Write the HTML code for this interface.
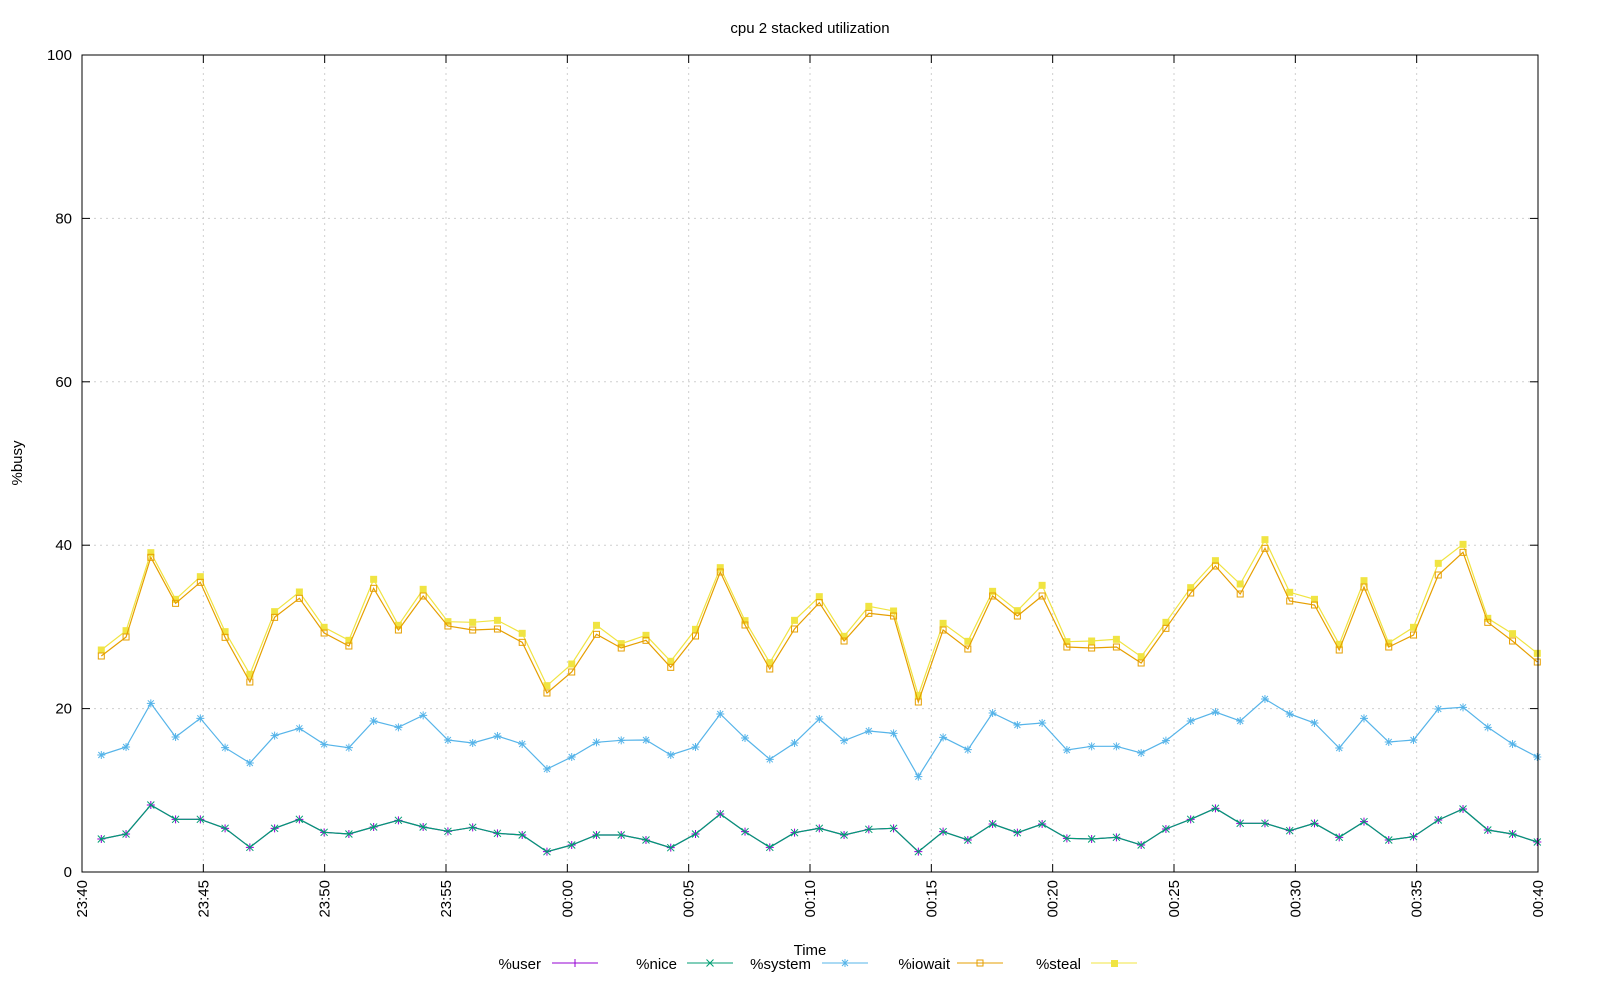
<!DOCTYPE html>
<html><head><meta charset="utf-8"><style>
body{margin:0;background:#fff;}
svg{display:block;font-family:"Liberation Sans","DejaVu Sans",sans-serif;}
</style></head><body>
<svg id="s" width="1600" height="1000" xmlns="http://www.w3.org/2000/svg">
<rect width="1600" height="1000" fill="#fff"/>
<g id="grid" stroke="#cfcfcf" stroke-width="1" stroke-dasharray="2,4"></g>
<g id="data"></g>
<rect x="82" y="55" width="1456" height="817" fill="none" stroke="#000" stroke-width="1"/>
<g id="ticks" stroke="#000"></g>
<g id="labels" font-size="15" fill="#000"></g>
<text x="810" y="33" font-size="15" text-anchor="middle">cpu 2 stacked utilization</text>
<text x="810" y="955" font-size="15" text-anchor="middle">Time</text>
<text transform="translate(22,463) rotate(-90)" font-size="15" text-anchor="middle">%busy</text>
<g font-size="15">
<text x="541" y="969" text-anchor="end">%user</text>
<line x1="552" y1="963" x2="598" y2="963" stroke="#9400d3"/>
<path d="M571 963h8M575 959v8" stroke="#9400d3"/>
<text x="677" y="969" text-anchor="end">%nice</text>
<line x1="687" y1="963" x2="733" y2="963" stroke="#009e73"/>
<path d="M706.5 959.5l7 7M706.5 966.5l7 -7" stroke="#009e73"/>
<text x="811" y="969" text-anchor="end">%system</text>
<line x1="822" y1="963" x2="868" y2="963" stroke="#56b4e9"/>
<path d="M841 963h8M845 959v8M842 960l6 6M842 966l6 -6" stroke="#56b4e9"/>
<text x="950" y="969" text-anchor="end">%iowait</text>
<line x1="957" y1="963" x2="1003" y2="963" stroke="#e69f00"/>
<rect x="977" y="960" width="6" height="6" fill="none" stroke="#e69f00"/>
<text x="1081" y="969" text-anchor="end">%steal</text>
<line x1="1091" y1="963" x2="1137" y2="963" stroke="#f0e442"/>
<rect x="1111" y="960" width="7" height="7" fill="#f0e442"/>
</g>
</svg>
<script>
const NS="http://www.w3.org/2000/svg";
function el(p,t,a,txt){const e=document.createElementNS(NS,t);for(const k in a)e.setAttribute(k,a[k]);if(txt!==undefined)e.textContent=txt;p.appendChild(e);return e;}
const grid=document.getElementById('grid'),ticks=document.getElementById('ticks'),labels=document.getElementById('labels'),data=document.getElementById('data');
for(let i=0;i<=5;i++){const y=872-i*163.4;
 if(i>0&&i<5)el(grid,'line',{x1:82,y1:y,x2:1538,y2:y});
 el(ticks,'line',{x1:82,y1:y,x2:90,y2:y});el(ticks,'line',{x1:1530,y1:y,x2:1538,y2:y});
 el(labels,'text',{x:72,y:y+5,'text-anchor':'end'},String(i*20));}
const xl=["23:40","23:45","23:50","23:55","00:00","00:05","00:10","00:15","00:20","00:25","00:30","00:35","00:40"];
for(let k=0;k<=12;k++){const x=82+k*1456/12;
 if(k>0&&k<12)el(grid,'line',{x1:x,y1:55,x2:x,y2:872});
 el(ticks,'line',{x1:x,y1:872,x2:x,y2:864});el(ticks,'line',{x1:x,y1:55,x2:x,y2:63});
 el(labels,'text',{transform:`translate(${x+5},880) rotate(-90)`,'text-anchor':'end'},xl[k]);}
function mk(a,b,c){return a.concat(b.slice(1),c.slice(1));}
const steal=mk([420,362,128,268,200,365,493,305,246,352,391,208,346,238,335,337,331,370,527,462],
[462,346,401,376,454,358,173,332,458,331,260,379,289,303,556,340,394,244,302,226],
[226,395,393,388,440,337,233,152,222,89,247,268,403,212,399,352,160,103,325,371,430]);
const iow=mk([438,381,142,280,217,382,516,322,265,369,408,235,360,258,348,360,357,397,549,486],
[486,373,414,391,472,378,186,345,477,357,278,393,310,318,576,360,417,258,318,258],
[258,411,414,411,459,355,249,168,252,115,273,285,420,231,411,375,195,127,337,393,456]);
const sys=mk([735,711,580,681,625,713,759,677,655,703,713,633,652,616,690,699,678,702,777,741],
[741,697,691,690,735,711,612,684,748,699,627,692,663,670,800,682,719,609,645,639],
[639,720,709,709,729,692,633,606,633,567,612,639,714,625,696,690,597,592,652,702,741]);
const usr=mk([987,972,885,928,928,955,1012,955,928,967,972,951,931,951,964,952,970,975,1025,1005],
[1005,975,975,990,1013,972,912,965,1012,968,955,975,958,955,1025,965,990,942,968,942],
[942,985,987,982,1005,957,928,895,940,940,962,940,982,935,990,980,930,897,960,972,996]);
const X=i=>101.3+i*1436/58, Y=v=>510+v/3;
function series(arr,color,marker){
 const pts=arr.map((v,i)=>X(i).toFixed(1)+','+Y(v).toFixed(1)).join(' ');
 el(data,'polyline',{points:pts,fill:'none',stroke:color,'stroke-width':1.2});
 arr.forEach((v,i)=>{const x=X(i),y=Y(v);
  if(marker=='plus'){el(data,'path',{d:`M${x-4} ${y}h8M${x} ${y-4}v8`,stroke:color});}
  else if(marker=='x'){el(data,'path',{d:`M${x-3.5} ${y-3.5}l7 7M${x-3.5} ${y+3.5}l7 -7`,stroke:color});}
  else if(marker=='star'){el(data,'path',{d:`M${x-4} ${y}h8M${x} ${y-4}v8M${x-3} ${y-3}l6 6M${x-3} ${y+3}l6 -6`,stroke:color});}
  else if(marker=='osq'){el(data,'rect',{x:x-3,y:y-3,width:6,height:6,fill:'none',stroke:color});}
  else {el(data,'rect',{x:x-3.5,y:y-3.5,width:7,height:7,fill:color});}
 });}
series(steal,'#f0e442','fsq');
series(iow,'#e69f00','osq');
series(sys,'#56b4e9','star');
series(usr,'#9400d3','plus');
series(usr,'#009e73','x');
</script>
</body></html>
